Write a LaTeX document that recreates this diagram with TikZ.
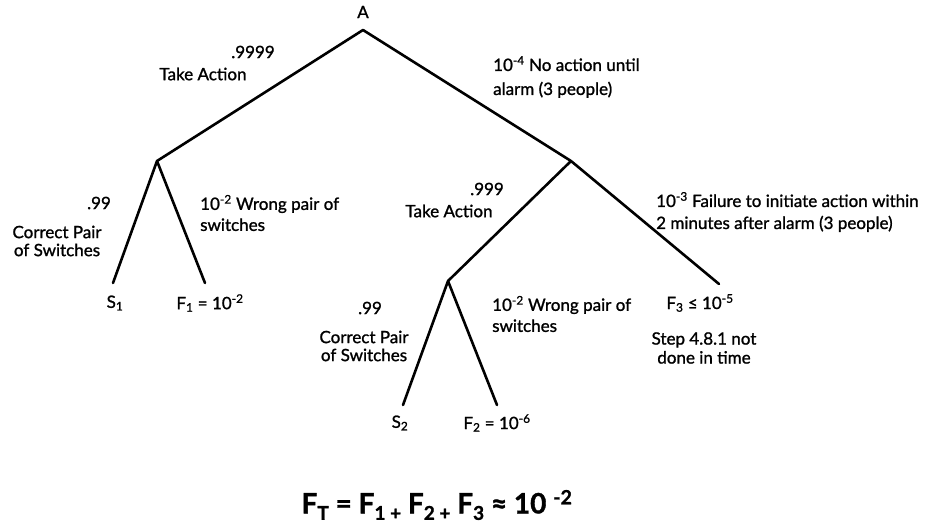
\documentclass[tikz,border=0pt]{standalone}
\usepackage{fontspec}
\setmainfont{Lato}[FakeBold=1.2]
\newcommand{\lowsub}[1]{\raisebox{-0.45ex}{\fontsize{19}{19}\selectfont #1}}

\begin{document}
\begin{tikzpicture}[x=1pt,y=-1pt,
  every node/.style={font=\fontsize{17}{21}\selectfont, inner sep=0pt},
  branch/.style={line width=2.6pt, line cap=round}]
\useasboundingbox (0,0) rectangle (926,524);
% tree points
\coordinate (A) at (363,30);
\coordinate (L1) at (157,161);
\coordinate (R1) at (571,161);
\coordinate (S1) at (113,283);
\coordinate (F1) at (205,283);
\coordinate (L2) at (448,281);
\coordinate (F3) at (719,284);
\coordinate (S2) at (403,405);
\coordinate (F2) at (497,405);
\foreach \from/\to in {A/L1, A/R1, L1/S1, L1/F1, R1/L2, R1/F3, L2/S2, L2/F2}
  \draw[branch] (\from) -- (\to);
% labels
\node (a) at (363,12) {A};
\node (p1) at (253,52) {.9999};
\node (t1) at (203,74) {Take Action};
\node[anchor=west, align=left] (n1) at (493,77) {10\textsuperscript{-4} No action until\\[3pt]alarm (3 people)};
\node (p2) at (99,203) {.99};
\node[align=center] (c1) at (57,241) {Correct Pair\\[-3pt]of Switches};
\node[anchor=west, align=left] (w1) at (200,213) {10\textsuperscript{-2} Wrong pair of\\switches};
\node (s1) at (115,303) {S\textsubscript{1}};
\node (f1) at (210,303) {F\textsubscript{1} = 10\textsuperscript{-2}};
\node (p3) at (487,189) {.999};
\node (t2) at (449,211) {Take Action};
\node[anchor=west, align=left] (n2) at (656,212) {10\textsuperscript{-3} Failure to initiate action within\\[1pt]2 minutes after alarm (3 people)};
\node (p4) at (370,308) {.99};
\node[align=center] (c2) at (364,346) {Correct Pair\\[-3pt]of Switches};
\node[anchor=west, align=left] (w2) at (492,314) {10\textsuperscript{-2} Wrong pair of\\switches};
\node (s2) at (400,423) {S\textsubscript{2}};
\node (f2) at (497,423) {F\textsubscript{2} = 10\textsuperscript{-6}};
\node (f3) at (700,303) {F\textsubscript{3} ≤ 10\textsuperscript{-5}};
\node[align=center] (st) at (704,348) {Step 4.8.1 not\\[-2pt]done in time};
\node (ft) at (437,505) {\fontsize{28}{32}\selectfont\bfseries F\lowsub{T} = F\lowsub{1 +} F\lowsub{2 +} F\lowsub{3} ≈ 10 \textsuperscript{-2}};
\end{tikzpicture}
\end{document}
